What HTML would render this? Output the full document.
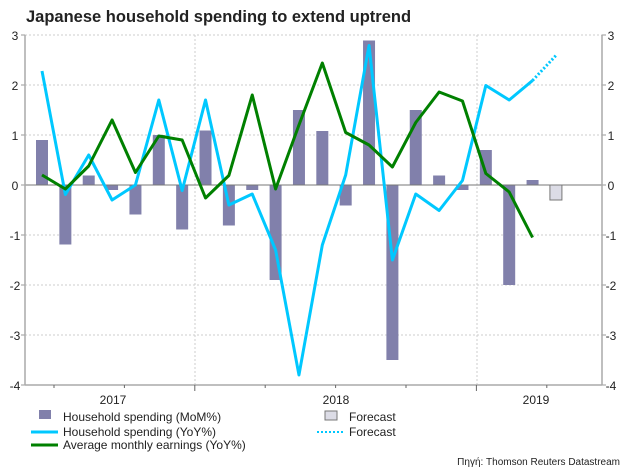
<!DOCTYPE html>
<html><head><meta charset="utf-8"><style>
body{margin:0;background:#fff;font-family:"Liberation Sans",Arial,sans-serif}
svg text{font-family:"Liberation Sans",Arial,sans-serif}
</style></head><body>
<svg width="626" height="469" viewBox="0 0 626 469">
<text x="26" y="22" font-size="16.5" font-weight="bold" fill="#222">Japanese household spending to extend uptrend</text>
<g id="grid"></g><g id="bars"></g><g id="lines"></g><g id="axes"></g>
<g font-size="12" fill="#222">
<rect x="39" y="410" width="12" height="9" fill="#8180ab"/>
<text x="63" y="421">Household spending (MoM%)</text>
<line x1="31" y1="432" x2="58" y2="432" stroke="#00c8ff" stroke-width="3"/>
<text x="63" y="436">Household spending (YoY%)</text>
<line x1="31" y1="445" x2="58" y2="445" stroke="#008000" stroke-width="3"/>
<text x="63" y="449">Average monthly earnings (YoY%)</text>
<rect x="325" y="411" width="12" height="9" fill="#dcdce6" stroke="#777"/>
<text x="349" y="421">Forecast</text>
<line x1="317" y1="432" x2="343" y2="432" stroke="#00c8ff" stroke-width="2" stroke-dasharray="2,2"/>
<text x="349" y="436">Forecast</text>
</g>
<text x="620" y="465" font-size="10" text-anchor="end" fill="#222">Πηγή: Thomson Reuters Datastream</text>
</svg>
<script>
const mom=[0.9,-1.19,0.19,-0.1,-0.59,1.0,-0.89,1.09,-0.81,-0.1,-1.9,1.5,1.08,-0.41,2.89,-3.5,1.5,0.19,-0.1,0.7,-2.0,0.1];
const momForecast=[-0.3];
const yoy=[2.28,-0.19,0.6,-0.3,0.0,1.7,-0.11,1.7,-0.4,-0.18,-1.3,-3.8,-1.2,0.2,2.79,-1.5,-0.18,-0.51,0.09,1.99,1.7,2.09];
const yoyForecast=[2.09,2.59];
const earnings=[0.2,-0.08,0.38,1.3,0.25,0.98,0.9,-0.26,0.19,1.8,-0.08,1.2,2.44,1.05,0.8,0.36,1.25,1.86,1.68,0.23,-0.14,-1.05];
const yTicks=[3,2,1,0,-1,-2,-3,-4];
const yearLabels=["2017","2018","2019"];
const NS="http://www.w3.org/2000/svg";
const L=25,R=602,T=35,B=385;
const x=i=>42+i*23.36;
const y=v=>185-v*50;
function mk(tag,attrs,parent){const e=document.createElementNS(NS,tag);for(const k in attrs)e.setAttribute(k,attrs[k]);document.getElementById(parent).appendChild(e);return e;}
yTicks.forEach(v=>{
 if(v!==0&&v!==-4){const g=mk('line',{x1:L,x2:R,y1:y(v),y2:y(v),stroke:'#ccc','stroke-dasharray':'2,2'},'grid');
 
 }
 const t=mk('text',{x:15,y:y(v)+5,'font-size':12,'text-anchor':'middle',fill:'#222'},'axes');t.textContent=v;
 
 
 const t2=mk('text',{x:611,y:y(v)+5,'font-size':12,'text-anchor':'middle',fill:'#222'},'axes');t2.textContent=v;
 
 
 [[L-4,L],[R,R+4]].forEach(p=>{const tk=mk('line',{x1:p[0],x2:p[1],y1:y(v),y2:y(v),stroke:'#999'},'axes');
 
 });
});
[195,477].forEach(px=>{const g=mk('line',{x1:px,x2:px,y1:T,y2:B,stroke:'#ccc','stroke-dasharray':'2,2'},'grid');
 
 });
mom.forEach((v,i)=>{const r=mk('rect',{x:x(i)-6,width:12,y:Math.min(y(v),y(0)),height:Math.abs(y(v)-y(0)),fill:'#8180ab'},'bars');
 
 });
momForecast.forEach((v,j)=>{const i=mom.length+j;const r=mk('rect',{x:x(i)-6,width:12,y:Math.min(y(v),y(0)),height:Math.abs(y(v)-y(0)),fill:'#dcdce6',stroke:'#777'},'bars');
 
 });
const zl=mk('line',{x1:L,x2:R,y1:y(0),y2:y(0),stroke:'#777'},'bars');


const pts=(a,o)=>a.map((v,i)=>x(i+o)+','+y(v)).join(' ');
const l1=mk('polyline',{points:pts(yoy,0),fill:'none',stroke:'#00c8ff','stroke-width':3,'stroke-linejoin':'round'},'lines');


const l2=mk('polyline',{points:pts(yoyForecast,yoy.length-1),fill:'none',stroke:'#00c8ff','stroke-width':3,'stroke-dasharray':'2,2'},'lines');


const l3=mk('polyline',{points:pts(earnings,0),fill:'none',stroke:'#008000','stroke-width':3,'stroke-linejoin':'round'},'lines');


const ax=[[L,T,L,B],[R,T,R,B],[L,B,R,B]];
ax.forEach(a=>{const e=mk('line',{x1:a[0],y1:a[1],x2:a[2],y2:a[3],stroke:'#aaa','stroke-width':1.5},'axes');
 
 });
for(let i=0;i<8;i++){const px=54+i*70.4;const big=(i===2||i===6);const e=mk('line',{x1:px,x2:px,y1:B,y2:B+(big?6:3),stroke:'#666'},'axes');
 
 }
const labX=[113,336,536];
yearLabels.forEach((s,i)=>{const t=mk('text',{x:labX[i],y:404,'font-size':12,'text-anchor':'middle',fill:'#222'},'axes');t.textContent=s;
 
 });
</script>
</body></html>
